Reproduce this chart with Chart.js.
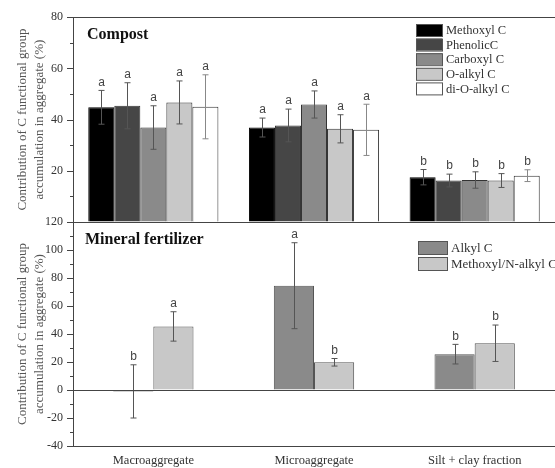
<!DOCTYPE html>
<html>
<head>
<meta charset="utf-8">
<script src="https://cdn.jsdelivr.net/npm/chart.js@4.4.1/dist/chart.umd.min.js"></script>
<style>
  html, body { margin: 0; padding: 0; background: #fff; }
  #wrap { position: relative; width: 555px; height: 468px; }
  #wrap canvas { position: absolute; left: 0; top: 0; }
</style>
</head>
<body>
<div id="wrap">
  <canvas id="compostChart" width="555" height="468"></canvas>
  <canvas id="mineralChart" width="555" height="468"></canvas>
</div>
<script>
// categorias (eixo x)
const categories = ['Macroaggregate', 'Microaggregate', 'Silt + clay fraction'];

// painel de cima: composto
const compostSeries = ['Methoxyl C', 'PhenolicC', 'Carboxyl C', 'O-alkyl C', 'di-O-alkyl C'];
const methoxylC = [44.8, 36.9, 17.5];
const phenolicC = [45.4, 37.7, 16.2];
const carboxylC = [36.9, 45.9, 16.4];
const oAlkylC = [46.7, 36.4, 16.2];
const diOAlkylC = [45.0, 36.0, 18.1];
const methoxylErr = [6.6, 3.7, 3.0];
const phenolicErr = [9.0, 6.4, 2.5];
const carboxylErr = [8.5, 5.3, 3.2];
const oAlkylErr = [8.4, 5.5, 2.7];
const diOAlkylErr = [12.5, 10.0, 2.3];
const compostLetters = [['a', 'a', 'b'], ['a', 'a', 'b'], ['a', 'a', 'b'], ['a', 'a', 'b'], ['a', 'a', 'b']];
const compostTicks = [0, 20, 40, 60, 80];

// painel de baixo: fertilizante mineral
const mineralSeries = ['Alkyl C', 'Methoxyl/N-alkyl C'];
const alkylC = [-1.0, 74.5, 25.6];
const methoxylNAlkylC = [45.4, 19.8, 33.4];
const alkylErr = [19.0, 30.7, 7.0];
const methoxylNAlkylErr = [10.5, 2.7, 13.0];
const mineralLetters = [['b', 'a', 'b'], ['a', 'b', 'b']];
const mineralTicks = [-40, -20, 0, 20, 40, 60, 80, 100, 120];

const yTitle = ['Contribution of C functional group', 'accumulation in aggregate (%)'];
const serif = "'Liberation Serif', 'Times New Roman', serif";
const sans = "'Liberation Sans', Arial, sans-serif";

// desenha barras de erro, letras, ticks, molduras, legenda e título
const decor = {
    id: 'decor',
    afterDatasetsDraw(chart, args, opts) {
        const ctx = chart.ctx;
        const y = chart.scales.y;
        ctx.save();
        chart.data.datasets.forEach((ds, di) => {
            const meta = chart.getDatasetMeta(di);
            meta.data.forEach((bar, i) => {
                const v = ds.data[i], e = ds.errors[i];
                const yt = y.getPixelForValue(v + e), yb = y.getPixelForValue(v - e);
                const x = Math.round(bar.x) + 0.5;
                ctx.strokeStyle = ds.errorColor || '#555';
                ctx.lineWidth = 1;
                ctx.beginPath();
                ctx.moveTo(x, yt); ctx.lineTo(x, yb);
                ctx.moveTo(x - 3, yt); ctx.lineTo(x + 3, yt);
                ctx.moveTo(x - 3, yb); ctx.lineTo(x + 3, yb);
                ctx.stroke();
                ctx.fillStyle = '#444';
                ctx.font = '12px ' + sans;
                ctx.textAlign = 'center';
                ctx.textBaseline = 'bottom';
                ctx.fillText(ds.letters[i], x, yt - 2);
            });
        });
        ctx.restore();
    },
    afterDraw(chart, args, opts) {
        const ctx = chart.ctx;
        const a = chart.chartArea;
        const y = chart.scales.y;
        ctx.save();
        ctx.strokeStyle = '#444';
        ctx.lineWidth = 1;
        // ticks principais e secundários
        ctx.beginPath();
        for (let v = y.min; v <= y.max; v += 10) {
            const py = Math.round(y.getPixelForValue(v)) + 0.5;
            const len = v % 20 === 0 ? 6 : 3;
            ctx.moveTo(a.left - len, py); ctx.lineTo(a.left, py);
        }
        // moldura superior
        ctx.moveTo(a.left, Math.round(a.top) + 0.5); ctx.lineTo(a.right, Math.round(a.top) + 0.5);
        if (opts.zeroLine) {
            const pz = Math.round(y.getPixelForValue(0)) + 0.5;
            ctx.moveTo(a.left, pz); ctx.lineTo(a.right, pz);
        }
        ctx.stroke();
        // título do painel
        ctx.fillStyle = '#111';
        ctx.font = 'bold 16px ' + serif;
        ctx.textAlign = 'left';
        ctx.textBaseline = 'alphabetic';
        ctx.fillText(opts.title, opts.titleX, opts.titleY);
        // legenda
        const lg = opts.legend;
        ctx.font = lg.font + 'px ' + serif;
        ctx.textBaseline = 'middle';
        chart.data.datasets.forEach((ds, i) => {
            const top = lg.y + i * lg.step;
            ctx.fillStyle = ds.backgroundColor;
            ctx.fillRect(lg.x, top, lg.w, lg.h);
            ctx.strokeStyle = '#555';
            ctx.strokeRect(lg.x + 0.5, top + 0.5, lg.w, lg.h);
            ctx.fillStyle = '#333';
            ctx.fillText(ds.label, lg.x + lg.w + 4, top + lg.h / 2 + 1);
        });
        ctx.restore();
    }
};

function yScale(min, max, hideLabels) {
    return {
        min: min,
        max: max,
        afterFit: (scale) => { scale.width = 73; },
        grid: { drawOnChartArea: false, drawTicks: false },
        border: { color: '#444' },
        ticks: {
            stepSize: 20,
            padding: 10,
            color: '#333',
            font: { family: serif, size: 12 },
            callback: (v) => hideLabels.includes(v) ? '' : v
        },
        title: {
            display: true,
            text: yTitle,
            color: '#555',
            font: { family: serif, size: 13, lineHeight: 1.3 },
            padding: { top: 14, bottom: 0 }
        }
    };
}

const compostColors = ['#000000', '#464646', '#8a8a8a', '#c8c8c8', '#ffffff'];
const compostValues = [methoxylC, phenolicC, carboxylC, oAlkylC, diOAlkylC];
const compostErrors = [methoxylErr, phenolicErr, carboxylErr, oAlkylErr, diOAlkylErr];

new Chart(document.getElementById('compostChart'), {
    type: 'bar',
    data: {
        labels: categories,
        datasets: compostSeries.map((name, i) => ({
            label: name,
            data: compostValues[i],
            errors: compostErrors[i],
            letters: compostLetters[i],
            backgroundColor: compostColors[i],
            borderColor: i === 0 ? '#000' : '#333',
            errorColor: i === 4 ? '#888' : '#555',
            borderWidth: 1,
            categoryPercentage: 0.81,
            barPercentage: 1
        }))
    },
    options: {
        responsive: false,
        animation: false,
        layout: { padding: { left: 0, top: 16, right: 0, bottom: 246 } },
        scales: {
            x: { display: false },
            y: yScale(0, 80, [0])
        },
        plugins: {
            legend: { display: false },
            tooltip: { enabled: false },
            decor: {
                title: 'Compost', titleX: 87, titleY: 39,
                legend: { x: 416, y: 24, w: 26, h: 12, step: 14.6, font: 12.5 }
            }
        }
    },
    plugins: [decor]
});

new Chart(document.getElementById('mineralChart'), {
    type: 'bar',
    data: {
        labels: categories,
        datasets: mineralSeries.map((name, i) => ({
            label: name,
            data: [alkylC, methoxylNAlkylC][i],
            errors: [alkylErr, methoxylNAlkylErr][i],
            letters: mineralLetters[i],
            backgroundColor: ['#8a8a8a', '#c8c8c8'][i],
            borderColor: '#555',
            errorColor: '#555',
            borderWidth: 1,
            categoryPercentage: 0.5,
            barPercentage: 1
        }))
    },
    options: {
        responsive: false,
        animation: false,
        layout: { padding: { left: 0, top: 222, right: 0, bottom: 0 } },
        scales: {
            x: {
                afterFit: (scale) => { scale.height = 22; },
                grid: { display: false },
                border: { color: '#444' },
                ticks: {
                    padding: 0,
                    color: '#333',
                    font: { family: serif, size: 12.5, lineHeight: 1 },
                    maxRotation: 0
                }
            },
            y: yScale(-40, 120, [])
        },
        plugins: {
            legend: { display: false },
            tooltip: { enabled: false },
            decor: {
                title: 'Mineral fertilizer', titleX: 85, titleY: 244, zeroLine: true,
                legend: { x: 418, y: 241, w: 29, h: 13, step: 16, font: 13 }
            }
        }
    },
    plugins: [decor]
});
</script>
</body>
</html>
